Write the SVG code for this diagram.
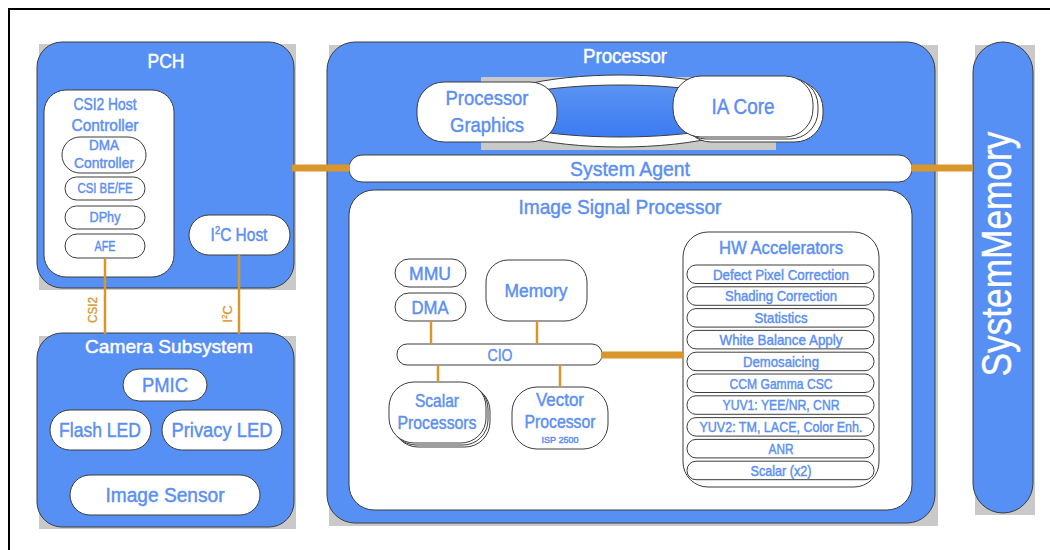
<svg xmlns="http://www.w3.org/2000/svg" width="1050" height="550" viewBox="0 0 1050 550">
<style>
.bg{fill:#ffffff}
.frame{fill:none;stroke:#000;stroke-width:2}
.sh{fill:#c9c9c9}
.box{fill:#5790f5;stroke:#3c3c3c;stroke-width:1}
.w{fill:#ffffff;stroke:#3c3c3c;stroke-width:1}
.t{font-family:"Liberation Sans",Arial,sans-serif;fill:#5b8ff2;stroke:#5b8ff2;stroke-width:0.45;text-anchor:middle}
.tw{font-family:"Liberation Sans",Arial,sans-serif;fill:#ffffff;stroke:#ffffff;stroke-width:0.45;text-anchor:middle}
.to{font-family:"Liberation Sans",Arial,sans-serif;fill:#d9962b;stroke:#d9962b;stroke-width:0.3;text-anchor:middle}
.c{stroke:#d9962b;stroke-width:2.5;fill:none}
.bus{stroke:#d9962b;stroke-width:7;fill:none}
</style>
<defs>
<linearGradient id="g" x1="0" y1="0" x2="0" y2="1">
<stop offset="0" stop-color="#5b93f3"/>
<stop offset="1" stop-color="#3b7cf3"/>
</linearGradient>
</defs>
<rect class="bg" x="0" y="0" width="1050" height="550"/>
<rect class="frame" x="9" y="9" width="1070" height="560"/>

<g id="pch">
<rect class="sh" x="39" y="44" width="257" height="246"/>
<rect class="box" x="37" y="42" width="257" height="246" rx="25"/>
<text class="tw" x="166" y="68" font-size="21" textLength="37" lengthAdjust="spacingAndGlyphs">PCH</text>
</g>
<g id="csi2-host">
<rect class="w" x="44" y="90" width="130" height="187" rx="22"/>
<text class="t" x="105" y="110" font-size="16" textLength="63" lengthAdjust="spacingAndGlyphs">CSI2 Host</text>
<text class="t" x="105" y="131" font-size="16" textLength="67" lengthAdjust="spacingAndGlyphs">Controller</text>
</g>
<g id="dma-controller">
<rect class="w" x="62" y="137" width="84" height="36" rx="18"/>
<text class="t" x="104" y="150" font-size="15" textLength="30" lengthAdjust="spacingAndGlyphs">DMA</text>
<text class="t" x="104" y="168" font-size="15" textLength="60" lengthAdjust="spacingAndGlyphs">Controller</text>
</g>
<g id="csi-befe">
<rect class="w" x="65" y="177" width="80" height="23" rx="11.5"/>
<text class="t" x="105" y="193" font-size="15" textLength="55" lengthAdjust="spacingAndGlyphs">CSI BE/FE</text>
</g>
<g id="dphy">
<rect class="w" x="65" y="206" width="80" height="23" rx="11.5"/>
<text class="t" x="105" y="222" font-size="15" textLength="31" lengthAdjust="spacingAndGlyphs">DPhy</text>
</g>
<g id="afe">
<rect class="w" x="65" y="234" width="80" height="24" rx="12"/>
<text class="t" x="105" y="251" font-size="15" textLength="21" lengthAdjust="spacingAndGlyphs">AFE</text>
</g>
<g id="i2c-host">
<rect class="w" x="189" y="215" width="101" height="40" rx="20"/>
<text class="t" transform="translate(239,241) scale(0.86,1)" x="0" y="0" font-size="18">I<tspan font-size="11" dy="-7">2</tspan><tspan dy="7">C Host</tspan></text>
</g>

<g id="camera-subsystem">
<rect class="sh" x="39" y="336" width="257" height="193"/>
<rect class="box" x="37" y="333" width="257" height="194" rx="25"/>
<text class="tw" x="169" y="353" font-size="19" textLength="168" lengthAdjust="spacingAndGlyphs">Camera Subsystem</text>
</g>
<g id="pmic">
<rect class="w" x="123" y="369" width="84" height="32" rx="16"/>
<text class="t" x="165" y="392" font-size="20" textLength="46" lengthAdjust="spacingAndGlyphs">PMIC</text>
</g>
<g id="flash-led">
<rect class="w" x="50" y="410" width="101" height="40" rx="20"/>
<text class="t" x="100" y="437" font-size="20" textLength="82" lengthAdjust="spacingAndGlyphs">Flash LED</text>
</g>
<g id="privacy-led">
<rect class="w" x="162" y="410" width="120" height="40" rx="20"/>
<text class="t" x="222" y="437" font-size="20" textLength="101" lengthAdjust="spacingAndGlyphs">Privacy LED</text>
</g>
<g id="image-sensor">
<rect class="w" x="70" y="475" width="190" height="40" rx="20"/>
<text class="t" x="165" y="502" font-size="20" textLength="119" lengthAdjust="spacingAndGlyphs">Image Sensor</text>
</g>

<g id="processor">
<rect class="sh" x="329" y="45" width="609" height="481"/>
<rect class="box" x="327" y="42" width="608" height="481" rx="28"/>
<text class="tw" x="625" y="63" font-size="20" textLength="84" lengthAdjust="spacingAndGlyphs">Processor</text>
<rect class="sh" x="481" y="77" width="295" height="73"/>
<ellipse cx="620" cy="111" rx="140" ry="36" fill="#ffffff" stroke="#3c3c3c" stroke-width="1"/>
<ellipse cx="620" cy="111" rx="132" ry="26" fill="url(#g)" stroke="#3c3c3c" stroke-width="1"/>
</g>
<g id="processor-graphics">
<rect class="w" x="417" y="82" width="140" height="60" rx="27"/>
<text class="t" x="487" y="105" font-size="21" textLength="83" lengthAdjust="spacingAndGlyphs">Processor</text>
<text class="t" x="487" y="132" font-size="21" textLength="74" lengthAdjust="spacingAndGlyphs">Graphics</text>
</g>
<g id="ia-core">
<rect class="w" x="683" y="81" width="140" height="61" rx="28"/>
<rect class="w" x="678" y="78" width="140" height="61" rx="28"/>
<rect class="w" x="673" y="76" width="140" height="61" rx="28"/>
<text class="t" x="743" y="114" font-size="22" textLength="63" lengthAdjust="spacingAndGlyphs">IA Core</text>
</g>
<g id="system-agent">
<rect class="w" x="349" y="155" width="563" height="27" rx="13"/>
<text class="t" x="630" y="176" font-size="21" textLength="120" lengthAdjust="spacingAndGlyphs">System Agent</text>
</g>
<g id="image-signal-processor">
<rect class="w" x="349" y="190" width="563" height="320" rx="25"/>
<text class="t" x="620" y="214" font-size="21" textLength="203" lengthAdjust="spacingAndGlyphs">Image Signal Processor</text>
</g>
<g id="mmu">
<rect class="w" x="395" y="259" width="71" height="28" rx="14"/>
<text class="t" x="430" y="280" font-size="18" textLength="42" lengthAdjust="spacingAndGlyphs">MMU</text>
</g>
<g id="dma">
<rect class="w" x="395" y="293" width="71" height="28" rx="14"/>
<text class="t" x="430" y="314" font-size="18" textLength="37" lengthAdjust="spacingAndGlyphs">DMA</text>
</g>
<g id="memory">
<rect class="w" x="486" y="260" width="101" height="61" rx="22"/>
<text class="t" x="536" y="297" font-size="18" textLength="63" lengthAdjust="spacingAndGlyphs">Memory</text>
</g>
<g id="cio">
<rect class="w" x="397" y="344" width="205" height="21" rx="10"/>
<text class="t" x="500" y="361" font-size="17" textLength="25" lengthAdjust="spacingAndGlyphs">CIO</text>
</g>
<g id="scalar-processors">
<rect class="w" x="393" y="386" width="97" height="61" rx="25"/>
<rect class="w" x="391" y="384" width="97" height="61" rx="25"/>
<rect class="w" x="389" y="382" width="97" height="61" rx="25"/>
<text class="t" x="437" y="407" font-size="18.5" textLength="44" lengthAdjust="spacingAndGlyphs">Scalar</text>
<text class="t" x="437" y="429" font-size="18.5" textLength="79" lengthAdjust="spacingAndGlyphs">Processors</text>
</g>
<g id="vector-processor">
<rect class="w" x="512" y="387" width="96" height="62" rx="25"/>
<text class="t" x="560" y="406" font-size="18.5" textLength="48" lengthAdjust="spacingAndGlyphs">Vector</text>
<text class="t" x="560" y="428" font-size="18.5" textLength="71" lengthAdjust="spacingAndGlyphs">Processor</text>
<text class="t" x="560" y="443" font-size="9.5" textLength="37" lengthAdjust="spacingAndGlyphs" stroke-width="0.25">ISP 2500</text>
</g>
<g id="hw-accelerators">
<rect class="w" x="683" y="232" width="196" height="255" rx="25"/>
<text class="t" x="781" y="254" font-size="18" textLength="124" lengthAdjust="spacingAndGlyphs">HW Accelerators</text>
<rect class="w" x="687" y="265" width="187" height="18.5" rx="9"/>
<text class="t" x="781" y="279.5" font-size="15" textLength="136" lengthAdjust="spacingAndGlyphs">Defect Pixel Correction</text>
<rect class="w" x="687" y="286.8" width="187" height="18.5" rx="9"/>
<text class="t" x="781" y="301.3" font-size="15" textLength="112" lengthAdjust="spacingAndGlyphs">Shading Correction</text>
<rect class="w" x="687" y="308.6" width="187" height="18.5" rx="9"/>
<text class="t" x="781" y="323.1" font-size="15" textLength="53" lengthAdjust="spacingAndGlyphs">Statistics</text>
<rect class="w" x="687" y="330.4" width="187" height="18.5" rx="9"/>
<text class="t" x="781" y="344.9" font-size="15" textLength="123" lengthAdjust="spacingAndGlyphs">White Balance Apply</text>
<rect class="w" x="687" y="352.2" width="187" height="18.5" rx="9"/>
<text class="t" x="781" y="366.7" font-size="15" textLength="76" lengthAdjust="spacingAndGlyphs">Demosaicing</text>
<rect class="w" x="687" y="374" width="187" height="18.5" rx="9"/>
<text class="t" x="781" y="388.5" font-size="15" textLength="103" lengthAdjust="spacingAndGlyphs">CCM Gamma CSC</text>
<rect class="w" x="687" y="395.8" width="187" height="18.5" rx="9"/>
<text class="t" x="781" y="410.3" font-size="15" textLength="117" lengthAdjust="spacingAndGlyphs">YUV1: YEE/NR, CNR</text>
<rect class="w" x="687" y="417.6" width="187" height="18.5" rx="9"/>
<text class="t" x="781" y="432.1" font-size="15" textLength="163" lengthAdjust="spacingAndGlyphs">YUV2: TM, LACE, Color Enh.</text>
<rect class="w" x="687" y="439.4" width="187" height="18.5" rx="9"/>
<text class="t" x="781" y="453.9" font-size="15" textLength="25" lengthAdjust="spacingAndGlyphs">ANR</text>
<rect class="w" x="687" y="461.2" width="187" height="18.5" rx="9"/>
<text class="t" x="781" y="475.7" font-size="15" textLength="61" lengthAdjust="spacingAndGlyphs">Scalar (x2)</text>
</g>

<g id="system-memory">
<rect class="sh" x="975" y="45" width="60" height="470"/>
<rect class="box" x="973" y="42" width="60" height="471" rx="30"/>
<text class="tw" transform="translate(1011,254) rotate(-90)" x="0" y="0" font-size="42" textLength="245" lengthAdjust="spacingAndGlyphs" stroke-width="0.8">SystemMemory</text>
</g>

<g id="connectors">
<line class="bus" x1="292" y1="168" x2="350" y2="168"/>
<line class="bus" x1="911" y1="168" x2="973" y2="168"/>
<line class="bus" x1="601" y1="355" x2="684" y2="355"/>
<line class="c" x1="105" y1="258" x2="105" y2="334"/>
<line class="c" x1="239" y1="255" x2="239" y2="334"/>
<line class="c" x1="431" y1="321" x2="431" y2="344"/>
<line class="c" x1="537" y1="321" x2="537" y2="344"/>
<line class="c" x1="438" y1="365" x2="438" y2="382"/>
<line class="c" x1="560" y1="365" x2="560" y2="387"/>
<text class="to" transform="translate(97,310) rotate(-90)" x="0" y="0" font-size="13" textLength="26" lengthAdjust="spacingAndGlyphs">CSI2</text>
<text class="to" transform="translate(232,314) rotate(-90)" x="0" y="0" font-size="13">I<tspan font-size="8" dy="-5">2</tspan><tspan dy="5">C</tspan></text>
</g>
</svg>
